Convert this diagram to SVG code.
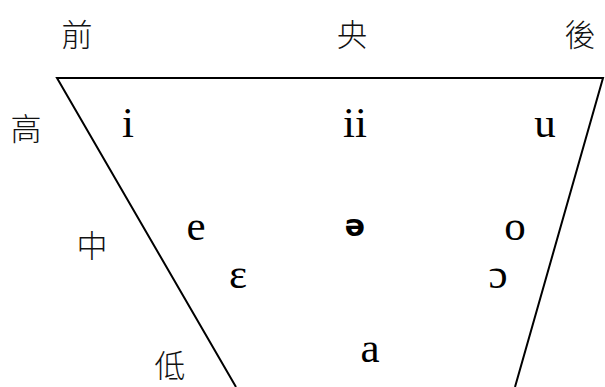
<svg xmlns="http://www.w3.org/2000/svg" width="605" height="387" viewBox="0 0 605 387">
<style>
.cjk{font-family:"Noto Sans CJK TC","Noto Sans CJK SC",sans-serif;font-size:31px;font-weight:300;fill:#111;text-anchor:middle}
.v{font-family:"Liberation Serif","DejaVu Serif",serif;font-size:43px;fill:#000;text-anchor:middle}
.b{font-family:"DejaVu Sans",sans-serif;font-size:30px;font-weight:bold}
.edge{fill:none;stroke:#000;stroke-width:2}
</style>
<rect width="605" height="387" fill="#fff"/>
<g id="connectors">
<polyline class="edge" points="236,387 57,78 603,78 515,387"/>
</g>
<g id="labels">
<text class="cjk" x="77" y="46">前</text>
<text class="cjk" x="352" y="46">央</text>
<text class="cjk" x="580" y="46">後</text>
<text class="cjk" x="26" y="140">高</text>
<text class="cjk" x="92" y="257">中</text>
<text class="cjk" x="170" y="377">低</text>
</g>
<g id="vowels">
<text class="v" x="128" y="137">i</text>
<text class="v" x="355" y="137">ii</text>
<text class="v" x="545" y="137">u</text>
<text class="v" x="196" y="240">e</text>
<text class="v b" x="355" y="236">ə</text>
<text class="v" x="515" y="240">o</text>
<text class="v" x="238" y="288">ɛ</text>
<text class="v" x="498" y="288">ɔ</text>
<text class="v" x="370" y="362">a</text>
</g>
</svg>
